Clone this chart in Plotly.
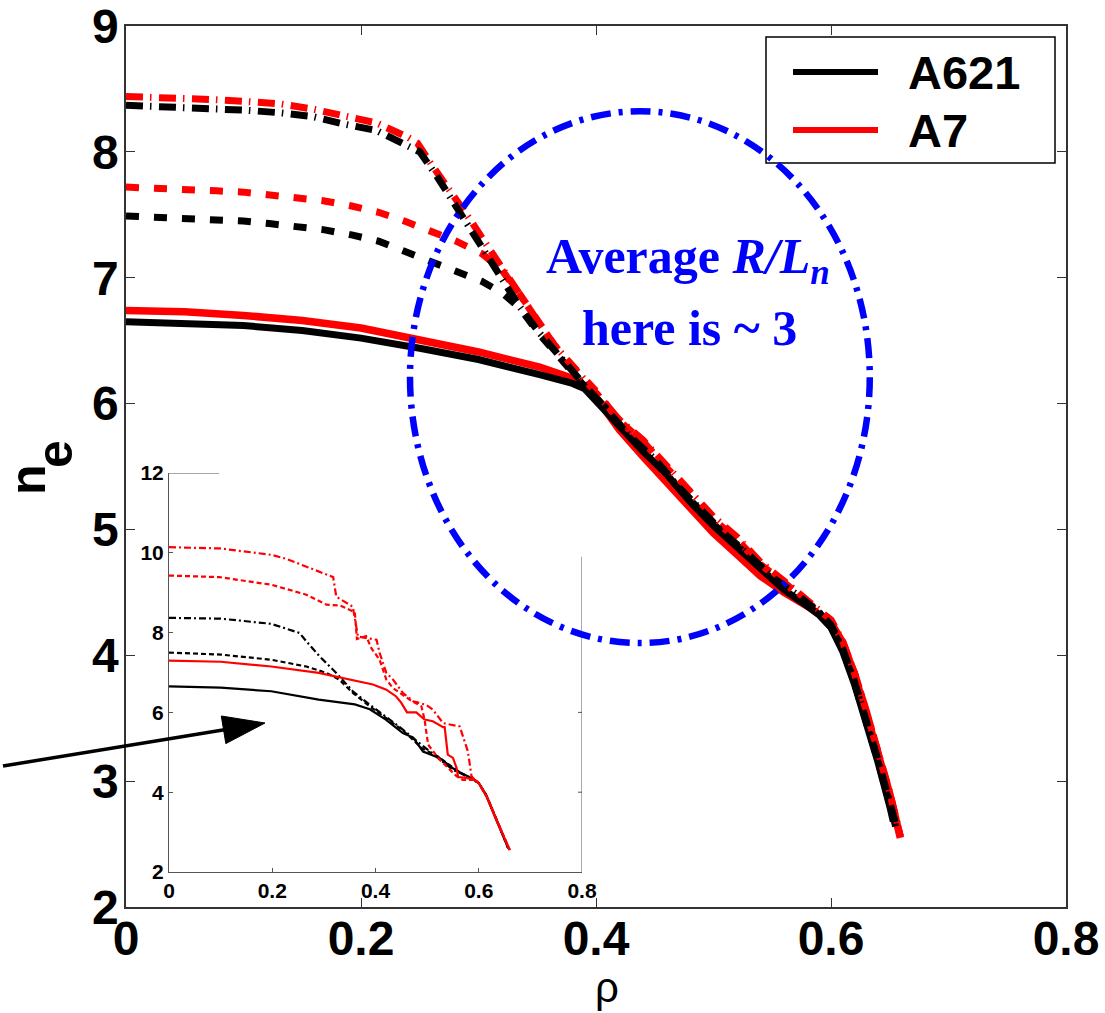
import math
import plotly.graph_objects as go

# ---------------- data: main panel ----------------
rho_a621_solid = [0, 0.05, 0.10, 0.15, 0.20, 0.25, 0.30, 0.352, 0.38, 0.39, 0.40, 0.42, 0.44, 0.46, 0.48,
                  0.50, 0.52, 0.54, 0.56, 0.58, 0.59, 0.60, 0.61, 0.62, 0.63, 0.64, 0.65, 0.653]
ne_a621_solid = [6.65, 6.64, 6.62, 6.58, 6.52, 6.44, 6.35, 6.23, 6.16, 6.12, 6.02, 5.80, 5.62, 5.44, 5.22,
                 5.03, 4.86, 4.68, 4.52, 4.39, 4.32, 4.22, 4.03, 3.77, 3.47, 3.15, 2.80, 2.68]

rho_a7_solid = [0, 0.05, 0.10, 0.15, 0.20, 0.25, 0.30, 0.352, 0.38, 0.40, 0.42, 0.44, 0.46, 0.48, 0.50,
                0.52, 0.54, 0.56, 0.58, 0.60, 0.61, 0.62, 0.63, 0.64, 0.65, 0.659]
ne_a7_solid = [6.74, 6.73, 6.70, 6.66, 6.60, 6.51, 6.41, 6.29, 6.20, 6.05, 5.79, 5.58, 5.38, 5.17, 4.97,
               4.80, 4.63, 4.50, 4.39, 4.26, 4.10, 3.85, 3.55, 3.24, 2.90, 2.55]

rho_a621_dash = [0, 0.029, 0.053, 0.077, 0.100, 0.122, 0.145, 0.169, 0.192, 0.215, 0.237, 0.260, 0.281,
                 0.303, 0.32, 0.335, 0.352, 0.37, 0.39, 0.41, 0.43, 0.45, 0.47, 0.49, 0.51, 0.53, 0.55,
                 0.57, 0.59, 0.60, 0.61, 0.62, 0.63, 0.64, 0.65, 0.655]
ne_a621_dash = [7.49, 7.48, 7.47, 7.46, 7.45, 7.43, 7.41, 7.38, 7.34, 7.29, 7.21, 7.13, 7.05,
                6.97, 6.88, 6.76, 6.55, 6.36, 6.14, 5.95, 5.72, 5.56, 5.33, 5.14, 4.95, 4.79, 4.62,
                4.48, 4.34, 4.23, 4.04, 3.78, 3.48, 3.16, 2.82, 2.64]

rho_a7_dash = [0, 0.029, 0.053, 0.077, 0.100, 0.122, 0.145, 0.169, 0.192, 0.215, 0.237, 0.260, 0.281,
               0.303, 0.32, 0.335, 0.35, 0.365, 0.38, 0.40, 0.42, 0.44, 0.46, 0.48, 0.50, 0.52, 0.54,
               0.56, 0.58, 0.60, 0.61, 0.62, 0.63, 0.64, 0.65, 0.659]
ne_a7_dash = [7.72, 7.713, 7.70, 7.69, 7.68, 7.66, 7.64, 7.61, 7.57, 7.52, 7.45, 7.37, 7.29,
              7.19, 7.06, 6.87, 6.66, 6.46, 6.30, 6.10, 5.86, 5.70, 5.49, 5.30, 5.08, 4.92, 4.72,
              4.58, 4.42, 4.28, 4.10, 3.86, 3.56, 3.25, 2.90, 2.56]

rho_a621_dashdot = [0, 0.047, 0.076, 0.103, 0.132, 0.159, 0.186, 0.213, 0.239, 0.25, 0.265, 0.279, 0.293,
                    0.307, 0.321, 0.335, 0.352, 0.37, 0.39, 0.41, 0.43, 0.45, 0.47, 0.49, 0.51, 0.53,
                    0.55, 0.57, 0.59, 0.60, 0.61, 0.62, 0.63, 0.64, 0.65, 0.655]
ne_a621_dashdot = [8.37, 8.356, 8.34, 8.33, 8.31, 8.28, 8.22, 8.17, 8.05, 8.00, 7.80, 7.59, 7.40,
                   7.19, 6.98, 6.77, 6.56, 6.36, 6.15, 5.94, 5.73, 5.56, 5.34, 5.15, 4.96, 4.80,
                   4.62, 4.49, 4.34, 4.24, 4.05, 3.79, 3.49, 3.17, 2.83, 2.66]

rho_a7_dashdot = [0, 0.047, 0.076, 0.103, 0.132, 0.159, 0.186, 0.213, 0.239, 0.248, 0.26, 0.279, 0.293,
                  0.307, 0.321, 0.335, 0.35, 0.365, 0.38, 0.40, 0.42, 0.44, 0.46, 0.48, 0.50, 0.52,
                  0.54, 0.56, 0.58, 0.60, 0.61, 0.62, 0.63, 0.64, 0.65, 0.659]
ne_a7_dashdot = [8.44, 8.43, 8.415, 8.40, 8.38, 8.34, 8.29, 8.23, 8.12, 8.07, 7.90, 7.66, 7.46,
                 7.26, 7.06, 6.85, 6.66, 6.46, 6.30, 6.09, 5.87, 5.71, 5.50, 5.31, 5.10, 4.94,
                 4.74, 4.59, 4.43, 4.28, 4.11, 3.86, 3.56, 3.25, 2.91, 2.56]

# ---------------- data: inset ----------------
in_rho_a621_solid = [0, 0.1, 0.198, 0.29, 0.36, 0.389, 0.42, 0.453, 0.473, 0.492, 0.524, 0.55, 0.569,
                     0.592, 0.6, 0.615, 0.634, 0.657]
in_ne_a621_solid = [6.65, 6.62, 6.53, 6.32, 6.20, 6.08, 5.82, 5.48, 5.37, 5.02, 4.86, 4.60, 4.46,
                    4.31, 4.23, 3.90, 3.31, 2.60]

in_rho_a621_dash = [0, 0.1, 0.198, 0.266, 0.305, 0.33, 0.356, 0.389, 0.42, 0.453, 0.49, 0.52, 0.55,
                    0.575, 0.6, 0.615, 0.634, 0.657]
in_ne_a621_dash = [7.50, 7.45, 7.32, 7.15, 6.99, 6.82, 6.49, 6.15, 5.86, 5.55, 5.10, 4.90, 4.62,
                   4.40, 4.23, 3.92, 3.33, 2.60]

in_rho_a621_dashdot = [0, 0.1, 0.198, 0.253, 0.266, 0.292, 0.324, 0.356, 0.389, 0.42, 0.453, 0.485,
                       0.517, 0.55, 0.582, 0.6, 0.615, 0.634, 0.657]
in_ne_a621_dashdot = [8.37, 8.35, 8.22, 7.99, 7.78, 7.40, 6.99, 6.53, 6.19, 5.90, 5.57, 5.23,
                      4.90, 4.56, 4.38, 4.23, 3.92, 3.33, 2.60]

in_rho_a7_solid = [0, 0.1, 0.198, 0.29, 0.395, 0.421, 0.44, 0.45, 0.461, 0.479, 0.495, 0.511, 0.531,
                   0.534, 0.54, 0.55, 0.557, 0.56, 0.576, 0.592, 0.6, 0.615, 0.634, 0.66]
in_ne_a7_solid = [7.30, 7.27, 7.15, 6.99, 6.70, 6.57, 6.40, 6.24, 6.00, 6.00, 5.82, 5.78, 5.63,
                  5.63, 4.94, 4.86, 4.61, 4.38, 4.36, 4.31, 4.23, 3.90, 3.31, 2.55]

in_rho_a7_dash = [0, 0.098, 0.198, 0.266, 0.305, 0.331, 0.36, 0.364, 0.382, 0.392, 0.408, 0.421, 0.434,
                  0.447, 0.466, 0.489, 0.495, 0.502, 0.524, 0.557, 0.569, 0.592, 0.6, 0.615, 0.634, 0.66]
in_ne_a7_dash = [9.43, 9.39, 9.20, 8.95, 8.70, 8.68, 8.51, 7.84, 7.91, 7.61, 7.32, 6.82, 6.61,
                 6.49, 6.32, 6.15, 5.82, 5.19, 4.82, 4.40, 4.31, 4.31, 4.23, 3.90, 3.31, 2.55]

in_rho_a7_dashdot = [0, 0.098, 0.198, 0.227, 0.318, 0.324, 0.356, 0.366, 0.402, 0.408, 0.421, 0.434,
                     0.453, 0.473, 0.498, 0.511, 0.531, 0.563, 0.579, 0.586, 0.592, 0.6, 0.615, 0.634, 0.66]
in_ne_a7_dashdot = [10.14, 10.11, 9.95, 9.85, 9.39, 8.90, 8.65, 7.90, 7.82, 7.49, 6.99, 6.82,
                    6.49, 6.28, 6.19, 6.07, 5.73, 5.65, 5.02, 4.40, 4.31, 4.23, 3.90, 3.31, 2.55]

series_names = ["A621", "A7"]
x_ticks = [0, 0.2, 0.4, 0.6, 0.8]
x_ticktext = ["0", "0.2", "0.4", "0.6", "0.8"]
y_ticks = [2, 3, 4, 5, 6, 7, 8, 9]
in_y_ticks = [2, 4, 6, 8, 10, 12]

# ---------------- layout geometry ----------------
W, H = 1105, 1013
ML, MR, MT, MB = 126, 39, 26, 106
PW, PH = W - ML - MR, H - MT - MB


def xp(px):
    return (px - ML) / PW


def yp(py):
    return (H - MB - py) / PH


BLACK, RED, BLUE = "#000000", "#ff0000", "#0000ff"
DASH_MAIN = "13px,15px"
DASHDOT_MAIN = "17px,7px,1.5px,7.5px"
DASH_IN = "5px,3px"
DASHDOT_IN = "7px,3px,2px,3px"

fig = go.Figure()

main = [
    (rho_a7_solid, ne_a7_solid, RED, "solid", 7.5),
    (rho_a621_solid, ne_a621_solid, BLACK, "solid", 7),
    (rho_a7_dash, ne_a7_dash, RED, DASH_MAIN, 7),
    (rho_a621_dash, ne_a621_dash, BLACK, DASH_MAIN, 7),
    (rho_a7_dashdot, ne_a7_dashdot, RED, DASHDOT_MAIN, 7),
    (rho_a621_dashdot, ne_a621_dashdot, BLACK, DASHDOT_MAIN, 7),
]
for x, y, c, d, w in main:
    fig.add_trace(go.Scatter(x=x, y=y, mode="lines", line=dict(color=c, dash=d, width=w),
                             showlegend=False, xaxis="x", yaxis="y"))

inset = [
    (in_rho_a621_solid, in_ne_a621_solid, BLACK, "solid"),
    (in_rho_a621_dash, in_ne_a621_dash, BLACK, DASH_IN),
    (in_rho_a621_dashdot, in_ne_a621_dashdot, BLACK, DASHDOT_IN),
    (in_rho_a7_solid, in_ne_a7_solid, RED, "solid"),
    (in_rho_a7_dash, in_ne_a7_dash, RED, DASH_IN),
    (in_rho_a7_dashdot, in_ne_a7_dashdot, RED, DASHDOT_IN),
]
for x, y, c, d in inset:
    fig.add_trace(go.Scatter(x=x, y=y, mode="lines", line=dict(color=c, dash=d, width=2.2),
                             showlegend=False, xaxis="x2", yaxis="y2"))

tickfont_main = dict(family="Liberation Sans, Arial", size=48, color="black", weight="bold")
tickfont_in = dict(family="Liberation Sans, Arial", size=21, color="black", weight="bold")

in_x0, in_x1 = xp(169), xp(582)
in_y0, in_y1 = yp(872), yp(473)

fig.update_layout(
    width=W, height=H,
    margin=dict(l=ML, r=MR, t=MT, b=MB, autoexpand=False),
    paper_bgcolor="white", plot_bgcolor="white",
    xaxis=dict(range=[0, 0.8], tickvals=x_ticks, ticktext=x_ticktext, tickfont=tickfont_main,
               showgrid=False, zeroline=False, showline=True, linecolor="#333", linewidth=1.5,
               mirror="ticks", ticks="inside", ticklen=9, tickwidth=1.2, tickcolor="#333",
               ticklabeloverflow="allow", automargin=False, ticklabelstandoff=-11),
    yaxis=dict(range=[2, 9], tickvals=y_ticks, tickfont=tickfont_main,
               showgrid=False, zeroline=False, showline=True, linecolor="#333", linewidth=1.5,
               mirror="ticks", ticks="inside", ticklen=9, tickwidth=1.2, tickcolor="#333",
               ticklabeloverflow="allow", automargin=False, ticklabelstandoff=-4),
    xaxis2=dict(domain=[in_x0, in_x1], anchor="y2", range=[0, 0.8], tickvals=x_ticks, ticktext=x_ticktext,
                tickfont=tickfont_in, showgrid=False, zeroline=False, showline=True, linecolor="#555",
                linewidth=1, ticks="inside", ticklen=4, tickcolor="#555", ticklabeloverflow="allow",
                automargin=False),
    yaxis2=dict(domain=[in_y0, in_y1], anchor="x2", range=[2, 12], tickvals=in_y_ticks,
                tickfont=tickfont_in, showgrid=False, zeroline=False, showline=True, linecolor="#555",
                linewidth=1, ticks="inside", ticklen=4, tickcolor="#555", ticklabeloverflow="allow",
                automargin=False),
)

shapes = []
# inset partial frame (top and right edges as in the reference)
shapes.append(dict(type="line", xref="x2", yref="y2", x0=0, x1=0.097, y0=12, y1=12,
                   line=dict(color="#555", width=1)))
shapes.append(dict(type="line", xref="x2", yref="y2", x0=0.8, x1=0.8, y0=2, y1=9.9,
                   line=dict(color="#555", width=1)))
for v in [4, 6, 8]:
    shapes.append(dict(type="line", xref="x2", yref="y2", x0=0.8 - 4 / 516, x1=0.8, y0=v, y1=v,
                       line=dict(color="#555", width=1)))

# legend box and samples
shapes.append(dict(type="rect", xref="paper", yref="paper", x0=xp(766), x1=xp(1055), y0=yp(163), y1=yp(37),
                   line=dict(color="black", width=1.5), fillcolor="white"))
for py, col in [(72, BLACK), (130, RED)]:
    shapes.append(dict(type="line", xref="paper", yref="paper", x0=xp(793), x1=xp(878), y0=yp(py), y1=yp(py),
                       line=dict(color=col, width=6)))

# blue dash-dot ellipse
shapes.append(dict(type="circle", xref="x", yref="y", x0=0.2417, x1=0.633, y0=4.097, y1=8.323,
                   line=dict(color=BLUE, width=6.5, dash="20px,8px,4px,8px")))

# arrow (tail outside the axes)
tail = (3, 766)
tip = (265, 723)
dx, dy = tip[0] - tail[0], tip[1] - tail[1]
ln = math.hypot(dx, dy)
ux, uy = dx / ln, dy / ln
hl, hw = 42, 14
bx, by = tip[0] - ux * hl, tip[1] - uy * hl
c1 = (bx - uy * hw, by + ux * hw)
c2 = (bx + uy * hw, by - ux * hw)
shapes.append(dict(type="line", xref="paper", yref="paper", x0=xp(tail[0]), y0=yp(tail[1]),
                   x1=xp(bx + ux * 4), y1=yp(by + uy * 4), line=dict(color="black", width=3.5)))
path = "M {},{} L {},{} L {},{} Z".format(xp(tip[0]), yp(tip[1]), xp(c1[0]), yp(c1[1]), xp(c2[0]), yp(c2[1]))
shapes.append(dict(type="path", xref="paper", yref="paper", path=path, fillcolor="black",
                   line=dict(color="black", width=1)))
fig.update_layout(shapes=shapes)

ann = []
legfont = dict(family="Liberation Sans, Arial", size=47, color="black", weight="bold")
for py, name in [(72, series_names[0]), (130, series_names[1])]:
    ann.append(dict(xref="paper", yref="paper", x=xp(906), y=yp(py), xanchor="left", yanchor="middle",
                    text=name, showarrow=False, font=legfont))

serif = dict(family="Liberation Serif, Times New Roman", size=50, color=BLUE, weight="bold")
ann.append(dict(xref="paper", yref="paper", x=xp(688), y=yp(260), xanchor="center", yanchor="middle",
                text="Average <i>R/L</i><sub><i>n</i></sub>", showarrow=False, font=serif))
ann.append(dict(xref="paper", yref="paper", x=xp(689), y=yp(328), xanchor="center", yanchor="middle",
                text="here is ~ 3", showarrow=False, font=serif))

# x-axis label rho
ann.append(dict(xref="paper", yref="paper", x=xp(607), y=yp(987), xanchor="center", yanchor="middle",
                text="ρ", showarrow=False,
                font=dict(family="Liberation Sans, Arial", size=42, color="black")))

# y-axis label n_e
yfont = dict(family="Liberation Sans, Arial", size=50, color="black", weight="bold")
ann.append(dict(xref="paper", yref="paper", x=xp(28), y=yp(480), xanchor="center", yanchor="middle",
                text="n", textangle=-90, showarrow=False, font=yfont))
ann.append(dict(xref="paper", yref="paper", x=xp(55), y=yp(454), xanchor="center", yanchor="middle",
                text="e", textangle=-90, showarrow=False, font=yfont))
fig.update_layout(annotations=ann)

fig.write_html("out.html")
